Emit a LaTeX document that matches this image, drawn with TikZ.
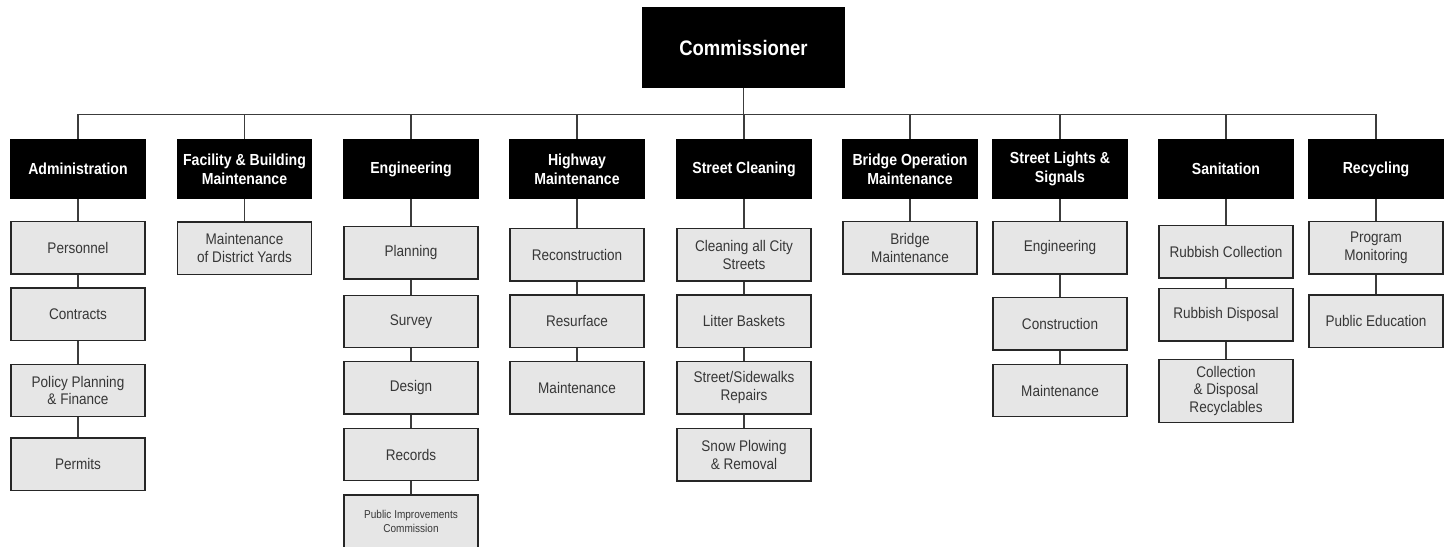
\documentclass[tikz,border=0pt]{standalone}
\usepackage{fontspec}
\setmainfont{Liberation Sans}[FakeStretch=0.88]
\usetikzlibrary{positioning}
\definecolor{boxgray}{RGB}{230,230,230}
\definecolor{textgray}{RGB}{55,55,55}
\definecolor{linegray}{RGB}{60,60,60}
\newcommand{\headfont}{\fontsize{16}{19}\selectfont\bfseries}
\newcommand{\unitfont}{\fontsize{15.4}{17.7}\selectfont}
\tikzset{
    common/.style={draw, rectangle, line width=1.4pt, align=center, inner sep=0pt, minimum width=134pt},
    head/.style={common, fill=black, text=white, font=\headfont, minimum height=58.5pt},
    top/.style={head, minimum width=201pt, minimum height=80pt, font=\fontsize{21}{25}\selectfont\bfseries},
    unit/.style={common, draw=black!85, fill=boxgray, text=textgray, font=\unitfont, minimum height=52.5pt},
    link/.style={draw=linegray, line width=1.3pt},
}
\begin{document}
\begin{tikzpicture}[x=1pt, y=-1pt]
    \useasboundingbox (0,0) rectangle (1445,546);
    \node[top] (comm) at (743.5,47.5) {Commissioner};
    \coordinate (bus) at (743.5,114.7);
    % department heads
    \node[head] (admin) at (78,169) {Administration};
    \node[head] (facil) at (244.5,169) {Facility \& Building\\Maintenance};
    \node[head] (engin) at (411,169) {Engineering};
    \node[head] (highw) at (577,169) {Highway\\Maintenance};
    \node[head] (clean) at (744,169) {Street Cleaning};
    \node[head] (bridg) at (910,169) {Bridge Operation\\Maintenance};
    \node[head] (light) at (1060,169) {Street Lights \&\\Signals};
    \node[head] (sanit) at (1226,169) {Sanitation};
    \node[head] (recyc) at (1376,169) {Recycling};
    % units
    \node[unit] (admin1) at (78,247.7) {Personnel};
    \node[unit] (admin2) at (78,314.3) {Contracts};
    \node[unit] (admin3) at (78,390.5) {Policy Planning\\\& Finance};
    \node[unit] (admin4) at (78,464.2) {Permits};
    \node[unit] (facil1) at (244.5,248.3) {Maintenance\\of District Yards};
    \node[unit] (engin1) at (411,252.8) {Planning};
    \node[unit] (engin2) at (411,321.5) {Survey};
    \node[unit] (engin3) at (411,387.8) {Design};
    \node[unit] (engin4) at (411,454.5) {Records};
    \node[unit, font=\fontsize{11.4}{14}\selectfont] (engin5) at (411,521.2) {Public Improvements\\Commission};
    \node[unit] (highw1) at (577,254.8) {Reconstruction};
    \node[unit] (highw2) at (577,321.3) {Resurface};
    \node[unit] (highw3) at (577,387.8) {Maintenance};
    \node[unit] (clean1) at (744,254.8) {Cleaning all City\\Streets};
    \node[unit] (clean2) at (744,321.3) {Litter Baskets};
    \node[unit] (clean3) at (744,387.8) {Street/Sidewalks\\Repairs};
    \node[unit] (clean4) at (744,454.7) {Snow Plowing\\\& Removal};
    \node[unit] (bridg1) at (910,247.7) {Bridge\\Maintenance};
    \node[unit] (light1) at (1060,247.7) {Engineering};
    \node[unit] (light2) at (1060,323.8) {Construction};
    \node[unit] (light3) at (1060,390.5) {Maintenance};
    \node[unit] (sanit1) at (1226,251.7) {Rubbish Collection};
    \node[unit] (sanit2) at (1226,314.8) {Rubbish Disposal};
    \node[unit, minimum height=63.3pt] (sanit3) at (1226,391) {Collection\\\& Disposal\\Recyclables};
    \node[unit] (recyc1) at (1376,247.7) {Program\\Monitoring};
    \node[unit] (recyc2) at (1376,321.3) {Public Education};
    % connectors
    \draw[link] (comm) -- (bus);
    \foreach \dept in {admin,facil,engin,highw,clean,bridg,light,sanit,recyc}
        \draw[link] (\dept.north) |- (bus);
    \draw[link] (admin) -- (admin1) -- (admin2) -- (admin3) -- (admin4);
    \draw[link] (facil) -- (facil1);
    \draw[link] (engin) -- (engin1) -- (engin2) -- (engin3) -- (engin4) -- (engin5);
    \draw[link] (highw) -- (highw1) -- (highw2) -- (highw3);
    \draw[link] (clean) -- (clean1) -- (clean2) -- (clean3) -- (clean4);
    \draw[link] (bridg) -- (bridg1);
    \draw[link] (light) -- (light1) -- (light2) -- (light3);
    \draw[link] (sanit) -- (sanit1) -- (sanit2) -- (sanit3);
    \draw[link] (recyc) -- (recyc1) -- (recyc2);
\end{tikzpicture}
\end{document}
